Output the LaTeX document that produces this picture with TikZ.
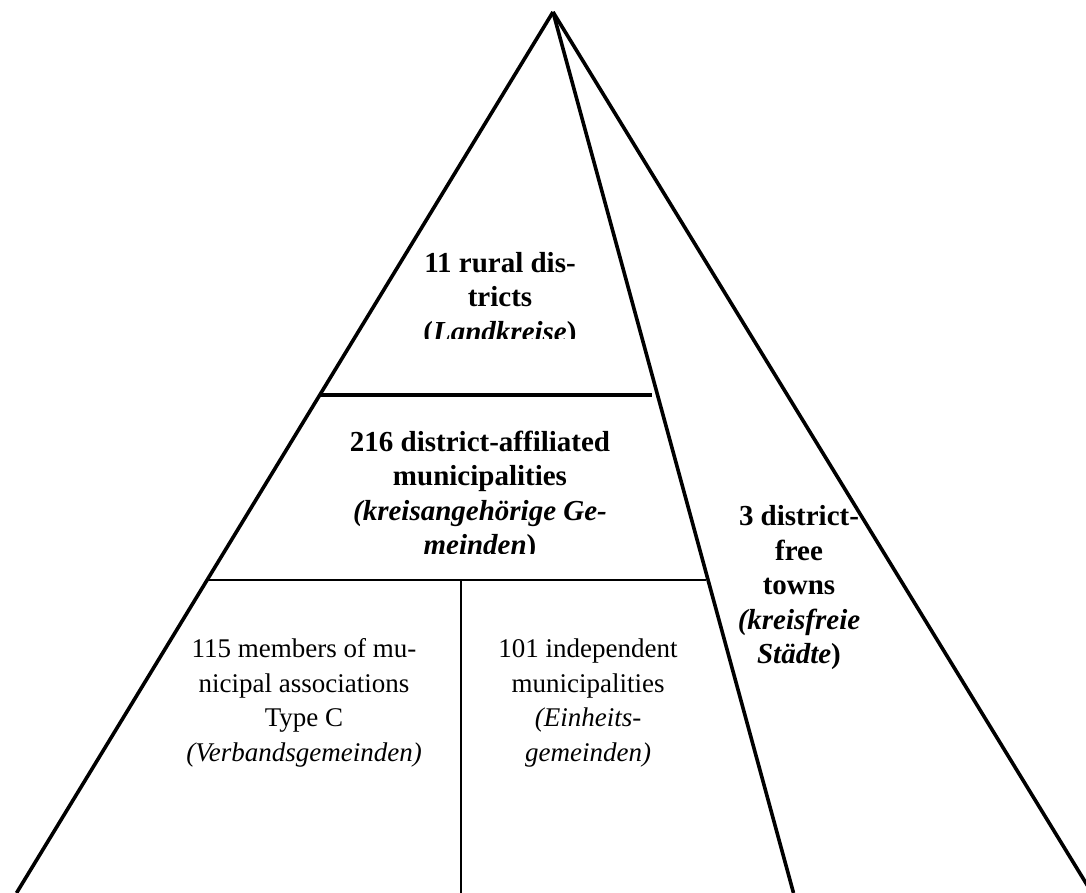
\documentclass[tikz,border=0pt]{standalone}
\usepackage{fontspec}
\setmainfont{Liberation Serif}
\usetikzlibrary{positioning}

\tikzset{
 side/.style={line width=1.8pt},
 boldlabel/.style={align=center,inner sep=0pt,font=\fontsize{14.5}{17.25}\selectfont\bfseries},
 plainlabel/.style={align=center,inner sep=0pt,font=\fontsize{13.5}{17.25}\selectfont},
}

\begin{document}
\begin{tikzpicture}[x=0.5pt,y=-0.5pt]
 \useasboundingbox (0,0) rectangle (1086,893);
 \clip (0,0) rectangle (1086,893);
 \coordinate (apex) at (553,12);
 \coordinate (leftfoot) at (16.5,893);
 \coordinate (midfoot) at (793.5,893);
 \coordinate (rightfoot) at (1092,893);
 \draw[side](apex)--(leftfoot);
 \draw[side](apex)--(midfoot);
 \draw[side](apex)--(rightfoot);
 \draw[line width=1.8pt](320,395)--(652,395);
 \draw[line width=1.2pt](208,580)--(706,580);
 \draw[line width=0.8pt](461,580)--(461,893);
 % cut-off labels
 \begin{scope}
  \clip (300,200) rectangle (660,338);
  \node[boldlabel] (rural) at (500,300) {11 rural dis-\\tricts\\(\textit{Landkreise})};
 \end{scope}
 \begin{scope}
  \clip (200,400) rectangle (700,553);
  \node[boldlabel] (affiliated) at (480,496) {216 district-affiliated\\municipalities\\\textit{(kreisangehörige Ge-}\\\textit{meinden})};
 \end{scope}
 \node[boldlabel] (free) at (799,588) {3 district-\\free\\towns\\\textit{(kreisfreie}\\\textit{Städte})};
 \node[plainlabel] (members) at (304,703) {115 members of mu-\\nicipal associations\\Type C\\\textit{(Verbandsgemeinden)}};
 \node[plainlabel] (independent) at (588,703) {101 independent\\municipalities\\\textit{(Einheits-}\\\textit{gemeinden)}};
\end{tikzpicture}
\end{document}
